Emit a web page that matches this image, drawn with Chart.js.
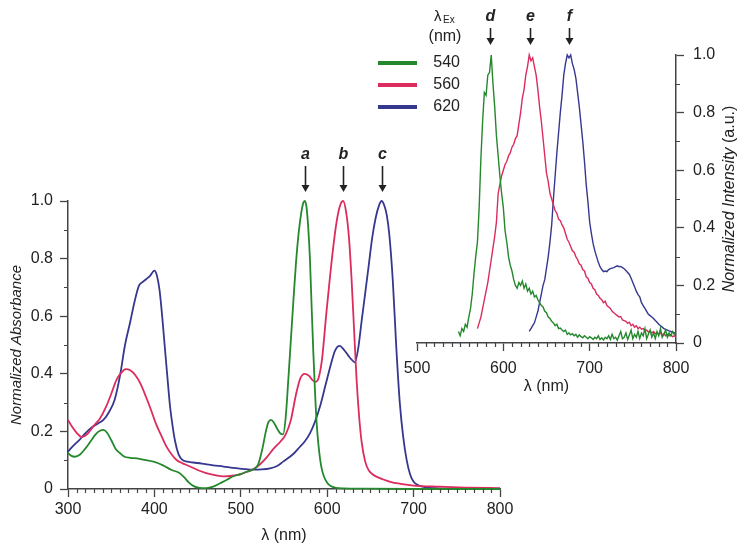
<!DOCTYPE html>
<html>
<head>
<meta charset="utf-8">
<script src="https://cdn.jsdelivr.net/npm/chart.js@4.4.1/dist/chart.umd.min.js"></script>
<style>
  html, body { margin: 0; padding: 0; background: #fff; }
  #wrap { position: relative; width: 748px; height: 552px; }
  #wrap canvas { position: absolute; left: 0; top: 0; }
</style>
</head>
<body>
<div id="wrap">
  <canvas id="absChart" width="748" height="552"></canvas>
  <canvas id="emChart" width="748" height="552"></canvas>
</div>
<script>
// excitation wavelengths / series colours
const exLabels = ['540', '560', '620'];
const colors = ['#24882c', '#db2c5d', '#36378f'];

// absorbance spectra (main panel)
const absGreenNm = [300, 304, 308, 314, 320, 326, 332, 337, 341, 345, 350, 355, 360, 365, 372, 380, 390, 400, 410, 420, 428, 434, 440, 446, 452, 460, 468, 476, 484, 492, 500, 507, 514, 520, 525, 529, 532, 535, 538, 542, 546, 549, 552, 555, 558, 561, 564, 567, 570, 572, 574, 576, 578, 580, 582, 584, 586, 588, 590, 593, 596, 600, 604, 610, 620, 640, 700, 800];
const absGreen = [0.125, 0.115, 0.112, 0.12, 0.14, 0.165, 0.19, 0.202, 0.205, 0.196, 0.17, 0.14, 0.125, 0.113, 0.108, 0.106, 0.1, 0.094, 0.082, 0.066, 0.057, 0.042, 0.022, 0.009, 0.004, 0.003, 0.008, 0.02, 0.032, 0.045, 0.052, 0.06, 0.068, 0.085, 0.14, 0.2, 0.232, 0.24, 0.232, 0.21, 0.192, 0.19, 0.25, 0.38, 0.52, 0.66, 0.79, 0.89, 0.96, 0.99, 1.0, 0.98, 0.91, 0.8, 0.63, 0.47, 0.33, 0.22, 0.15, 0.08, 0.045, 0.022, 0.01, 0.004, 0.002, 0.001, 0, 0];

const absPinkNm = [300, 305, 310, 316, 322, 330, 337, 344, 350, 356, 362, 367, 372, 378, 384, 390, 396, 402, 408, 414, 420, 426, 432, 440, 450, 460, 470, 480, 490, 500, 507, 514, 522, 530, 538, 546, 552, 558, 564, 569, 574, 579, 583, 587, 590, 594, 599, 603, 607, 611, 615, 618.5, 622, 625, 628, 631, 634, 637, 640, 644, 648, 652, 657, 665, 673, 685, 700, 730, 760, 800];
const absPink = [0.24, 0.215, 0.195, 0.18, 0.19, 0.22, 0.245, 0.285, 0.33, 0.378, 0.405, 0.416, 0.412, 0.395, 0.365, 0.322, 0.275, 0.225, 0.185, 0.147, 0.12, 0.1, 0.09, 0.08, 0.066, 0.055, 0.048, 0.044, 0.046, 0.052, 0.06, 0.068, 0.085, 0.11, 0.14, 0.165, 0.19, 0.24, 0.33, 0.385, 0.4, 0.393, 0.378, 0.372, 0.385, 0.45, 0.61, 0.73, 0.84, 0.93, 0.985, 1.0, 0.96, 0.88, 0.74, 0.56, 0.38, 0.25, 0.16, 0.095, 0.065, 0.052, 0.043, 0.033, 0.025, 0.018, 0.012, 0.008, 0.005, 0.003];

const absBlueNm = [300, 306, 313, 320, 327, 334, 341, 348, 354, 360, 366, 372, 377, 382, 387, 391, 395, 400, 403, 406, 409, 412, 415, 418, 421, 424, 428, 432, 438, 445, 455, 468, 480, 491, 502, 514, 524, 534, 542, 549, 556, 562, 568, 574, 580, 586, 592, 598, 604, 609, 614.5, 619, 624, 628, 632, 636, 640, 644, 648, 652, 656, 660, 663, 666, 669, 672, 676, 680, 684, 688, 692, 696, 700, 706, 714, 725, 750, 800];
const absBlue = [0.13, 0.15, 0.17, 0.193, 0.213, 0.226, 0.24, 0.27, 0.31, 0.39, 0.5, 0.58, 0.65, 0.705, 0.72, 0.73, 0.74, 0.758, 0.74, 0.69, 0.6, 0.494, 0.39, 0.29, 0.22, 0.165, 0.12, 0.102, 0.095, 0.092, 0.088, 0.082, 0.078, 0.073, 0.07, 0.067, 0.068, 0.072, 0.08, 0.095, 0.11, 0.125, 0.145, 0.165, 0.193, 0.235, 0.29, 0.36, 0.43, 0.48, 0.497, 0.485, 0.465, 0.45, 0.44, 0.49, 0.587, 0.68, 0.775, 0.87, 0.94, 0.985, 1.0, 0.985, 0.95, 0.88, 0.72, 0.49, 0.3, 0.18, 0.1, 0.05, 0.025, 0.012, 0.006, 0.003, 0.001, 0];

// emission spectra (inset), one value every 2 nm from the start wavelength
const emStep = 2;
const emGreenFrom = 548;
const emGreen = [0.04, 0.025, 0.05, 0.04, 0.065, 0.055, 0.09, 0.12, 0.17, 0.24, 0.3, 0.35, 0.47, 0.64, 0.77, 0.87, 0.86, 0.93, 0.94, 1.0, 0.9, 0.82, 0.72, 0.65, 0.58, 0.52, 0.47, 0.39, 0.35, 0.3, 0.27, 0.25, 0.22, 0.2, 0.19, 0.21, 0.2, 0.215, 0.19, 0.205, 0.18, 0.19, 0.17, 0.18, 0.16, 0.165, 0.15, 0.14, 0.13, 0.125, 0.11, 0.105, 0.09, 0.085, 0.075, 0.07, 0.06, 0.065, 0.05, 0.052, 0.045, 0.04, 0.045, 0.03, 0.035, 0.028, 0.032, 0.025, 0.03, 0.02, 0.028, 0.022, 0.018, 0.025, 0.02, 0.015, 0.022, 0.018, 0.012, 0.02, 0.015, 0.025, 0.012, 0.018, 0.01, 0.02, 0.015, 0.025, 0.012, 0.03, 0.015, 0.02, 0.01, 0.025, 0.04, 0.015, 0.02, 0.035, 0.012, 0.028, 0.045, 0.015, 0.03, 0.02, 0.04, 0.015, 0.035, 0.025, 0.05, 0.015, 0.03, 0.045, 0.02, 0.035, 0.015, 0.04, 0.025, 0.05, 0.02, 0.03, 0.045, 0.02, 0.035, 0.025, 0.04, 0.03, 0.035];
const emPinkFrom = 570;
const emPink = [0.05, 0.07, 0.09, 0.12, 0.15, 0.18, 0.21, 0.25, 0.29, 0.33, 0.37, 0.42, 0.52, 0.55, 0.58, 0.6, 0.62, 0.63, 0.65, 0.66, 0.68, 0.69, 0.71, 0.72, 0.76, 0.8, 0.85, 0.88, 0.93, 0.96, 1.0, 0.98, 0.99, 0.96, 0.93, 0.88, 0.82, 0.77, 0.71, 0.65, 0.59, 0.56, 0.52, 0.5, 0.48, 0.46, 0.45, 0.43, 0.425, 0.41, 0.4, 0.38, 0.36, 0.35, 0.335, 0.32, 0.315, 0.3, 0.29, 0.275, 0.27, 0.255, 0.25, 0.23, 0.225, 0.21, 0.205, 0.19, 0.185, 0.17, 0.165, 0.155, 0.15, 0.14, 0.145, 0.13, 0.125, 0.12, 0.11, 0.105, 0.1, 0.095, 0.09, 0.092, 0.08, 0.078, 0.075, 0.068, 0.072, 0.06, 0.065, 0.055, 0.06, 0.05, 0.055, 0.048, 0.05, 0.042, 0.045, 0.038, 0.042, 0.035, 0.04, 0.032, 0.036, 0.03, 0.035, 0.028, 0.032, 0.025, 0.03, 0.025, 0.028, 0.022, 0.025, 0.02];
const emBlueFrom = 630;
const emBlue = [0.04, 0.05, 0.06, 0.07, 0.09, 0.11, 0.14, 0.17, 0.2, 0.22, 0.26, 0.3, 0.35, 0.41, 0.5, 0.58, 0.66, 0.73, 0.8, 0.86, 0.93, 0.97, 1.0, 0.99, 1.0, 0.97, 0.95, 0.92, 0.87, 0.82, 0.76, 0.7, 0.63, 0.55, 0.49, 0.42, 0.38, 0.345, 0.32, 0.3, 0.28, 0.265, 0.255, 0.248, 0.25, 0.248, 0.255, 0.258, 0.26, 0.262, 0.265, 0.268, 0.265, 0.266, 0.262, 0.258, 0.252, 0.245, 0.238, 0.225, 0.21, 0.195, 0.18, 0.168, 0.16, 0.14, 0.13, 0.12, 0.11, 0.1, 0.095, 0.09, 0.085, 0.078, 0.072, 0.065, 0.06, 0.055, 0.05, 0.047, 0.045, 0.042, 0.04, 0.038, 0.036, 0.035];

// peak markers
const absPeakNm = [574, 618.5, 663];
const absPeakTags = ['a', 'b', 'c'];
const emPeakNm = [585, 631, 676];
const emPeakTags = ['d', 'e', 'f'];

const FONT = "'Liberation Sans', Arial, Helvetica, sans-serif";
const INK = '#222';
const AXIS = '#444';

const pairs = (xs, ys) => ys.map((y, i) => ({ x: xs[i], y }));
const stepped = (from, ys) => ys.map((y, i) => ({ x: from + i * emStep, y }));
const yLabel = v => (v === 0 ? '0' : v.toFixed(1));

// short ticks between the labelled ones
const minorTicks = {
  id: 'minorTicks',
  afterDraw(chart, args, o) {
    const { ctx, scales: { x, y } } = chart;
    ctx.save();
    ctx.strokeStyle = AXIS;
    ctx.lineWidth = 1.2;
    ctx.beginPath();
    const nx = Math.round((x.max - x.min) / o.xStep);
    for (let i = 0; i <= nx; i++) {
      if (i % o.xEvery === 0) continue;
      const px = Math.round(x.getPixelForValue(x.min + i * o.xStep)) + 0.5;
      ctx.moveTo(px, x.top);
      ctx.lineTo(px, x.top + o.len);
    }
    const ny = Math.round((y.max - y.min) / o.yStep);
    for (let i = 0; i <= ny; i++) {
      if (i % o.yEvery === 0) continue;
      const py = Math.round(y.getPixelForValue(y.min + i * o.yStep)) + 0.5;
      if (y.position === 'left') {
        ctx.moveTo(y.right, py);
        ctx.lineTo(y.right - o.len, py);
      } else {
        ctx.moveTo(y.left, py);
        ctx.lineTo(y.left + o.len, py);
      }
    }
    ctx.stroke();
    ctx.restore();
  }
};

// letter + down arrow above each peak
const peakArrows = {
  id: 'peakArrows',
  afterDraw(chart, args, o) {
    const { ctx, chartArea: { top }, scales: { x } } = chart;
    ctx.save();
    ctx.fillStyle = INK;
    ctx.strokeStyle = INK;
    ctx.lineWidth = 1.6;
    ctx.font = `italic bold 16px ${FONT}`;
    ctx.textAlign = 'center';
    ctx.textBaseline = 'middle';
    o.nm.forEach((v, i) => {
      const px = Math.round(x.getPixelForValue(v)) + 0.5;
      ctx.fillText(o.tags[i], px, top + o.textDy);
      ctx.beginPath();
      ctx.moveTo(px, top + o.shaftDy);
      ctx.lineTo(px, top + o.tipDy - 5);
      ctx.stroke();
      ctx.beginPath();
      ctx.moveTo(px - 4, top + o.tipDy - 7);
      ctx.lineTo(px + 4, top + o.tipDy - 7);
      ctx.lineTo(px, top + o.tipDy);
      ctx.closePath();
      ctx.fill();
    });
    ctx.restore();
  }
};

// legend block with the excitation wavelengths
const exLegend = {
  id: 'exLegend',
  afterDraw(chart) {
    const { ctx } = chart;
    ctx.save();
    ctx.fillStyle = INK;
    ctx.textAlign = 'left';
    ctx.textBaseline = 'alphabetic';
    ctx.font = `15px ${FONT}`;
    ctx.fillText('λ', 434, 21);
    ctx.font = `10px ${FONT}`;
    ctx.fillText('Ex', 443, 23);
    ctx.font = `16px ${FONT}`;
    ctx.textAlign = 'center';
    ctx.fillText('(nm)', 445, 41);
    ctx.textAlign = 'right';
    ctx.textBaseline = 'middle';
    chart.data.datasets.forEach((ds, i) => {
      const y = 63 + i * 22;
      ctx.strokeStyle = ds.borderColor;
      ctx.lineWidth = 4;
      ctx.beginPath();
      ctx.moveTo(378, y);
      ctx.lineTo(417, y);
      ctx.stroke();
      ctx.fillText(ds.label, 460, y);
    });
    ctx.restore();
  }
};

// rotated axis title, part italic
const mixedTitle = {
  id: 'mixedTitle',
  afterDraw(chart, args, o) {
    const { ctx, chartArea } = chart;
    const cy = (chartArea.top + chartArea.bottom) / 2;
    const italic = `italic 16px ${FONT}`;
    const plain = `16px ${FONT}`;
    ctx.save();
    ctx.translate(o.x, cy);
    ctx.rotate(-Math.PI / 2);
    ctx.font = italic;
    const w1 = ctx.measureText(o.italic).width;
    ctx.font = plain;
    const w2 = ctx.measureText(o.plain).width;
    const sx = -(w1 + w2) / 2;
    ctx.fillStyle = INK;
    ctx.textAlign = 'left';
    ctx.textBaseline = 'middle';
    ctx.font = italic;
    ctx.fillText(o.italic, sx, 0);
    ctx.font = plain;
    ctx.fillText(o.plain, sx + w1, 0);
    ctx.restore();
  }
};

const tickFont = { family: FONT, size: 16 };
const gridOpts = { drawOnChartArea: false, color: AXIS, tickLength: 8, tickWidth: 1.3 };
const borderOpts = { color: AXIS, width: 1.5 };

function lineSets(data, width, smooth) {
  return data.map((d, i) => ({
    label: exLabels[i],
    data: d,
    borderColor: colors[i],
    borderWidth: width,
    pointRadius: 0,
    fill: false,
    clip: 6,
    tension: smooth ? 0.4 : 0,
    cubicInterpolationMode: smooth ? 'monotone' : 'default'
  }));
}

new Chart(document.getElementById('absChart'), {
  type: 'line',
  data: {
    datasets: lineSets([
      pairs(absGreenNm, absGreen),
      pairs(absPinkNm, absPink),
      pairs(absBlueNm, absBlue)
    ], 1.8, true)
  },
  options: {
    responsive: false,
    animation: false,
    events: [],
    layout: { padding: { left: 0, top: 201, right: 248, bottom: 0 } },
    plugins: {
      legend: { display: false },
      tooltip: { enabled: false },
      minorTicks: { xStep: 10, xEvery: 10, yStep: 0.1, yEvery: 2, len: 4 },
      peakArrows: { nm: absPeakNm, tags: absPeakTags, textDy: -46, shaftDy: -35, tipDy: -9 }
    },
    scales: {
      x: {
        type: 'linear', min: 300, max: 800,
        ticks: { stepSize: 100, color: INK, font: tickFont, padding: 3, maxRotation: 0, autoSkip: false },
        grid: gridOpts,
        border: borderOpts,
        title: { display: true, text: 'λ (nm)', color: INK, font: tickFont, padding: { top: 0, bottom: 7 } },
        afterFit: s => { s.height = 63; }
      },
      y: {
        min: 0, max: 1,
        ticks: { stepSize: 0.2, color: INK, font: tickFont, padding: 7, callback: yLabel, autoSkip: false },
        grid: gridOpts,
        border: borderOpts,
        title: { display: true, text: 'Normalized Absorbance', color: INK, font: { family: FONT, size: 15, style: 'italic' }, padding: { top: 8, bottom: 0 } },
        afterFit: s => { s.width = 68; }
      }
    }
  },
  plugins: [minorTicks, peakArrows]
});

new Chart(document.getElementById('emChart'), {
  type: 'line',
  data: {
    datasets: lineSets([
      stepped(emGreenFrom, emGreen),
      stepped(emPinkFrom, emPink),
      stepped(emBlueFrom, emBlue)
    ], 1.4, false)
  },
  options: {
    responsive: false,
    animation: false,
    events: [],
    layout: { padding: { left: 417, top: 55, right: 0, bottom: 154 } },
    plugins: {
      legend: { display: false },
      tooltip: { enabled: false },
      minorTicks: { xStep: 10, xEvery: 10, yStep: 0.1, yEvery: 2, len: 4 },
      peakArrows: { nm: emPeakNm, tags: emPeakTags, textDy: -38, shaftDy: -27, tipDy: -10 },
      mixedTitle: { x: 730, italic: 'Normalized Intensity', plain: ' (a.u.)' }
    },
    scales: {
      x: {
        type: 'linear', min: 500, max: 800,
        ticks: { stepSize: 100, color: INK, font: tickFont, padding: 8, maxRotation: 0, autoSkip: false },
        grid: gridOpts,
        border: borderOpts,
        title: { display: true, text: 'λ (nm)', color: INK, font: tickFont, padding: { top: 0, bottom: 2 } },
        afterFit: s => { s.height = 55; }
      },
      y: {
        position: 'right',
        min: 0, max: 1,
        ticks: { stepSize: 0.2, color: INK, font: tickFont, padding: 9, callback: yLabel, autoSkip: false },
        grid: gridOpts,
        border: borderOpts,
        afterFit: s => { s.width = 72; }
      }
    }
  },
  plugins: [minorTicks, peakArrows, exLegend, mixedTitle]
});
</script>
</body>
</html>
